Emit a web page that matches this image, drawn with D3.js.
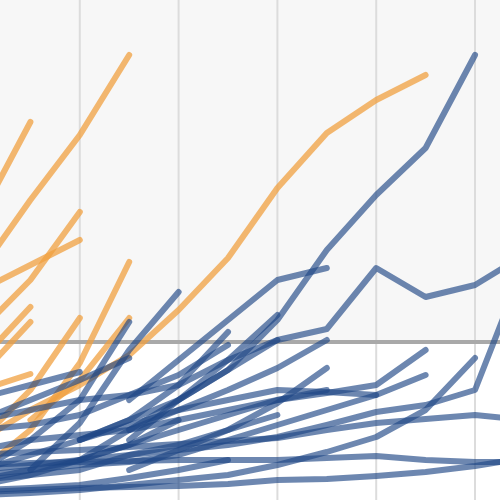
<!DOCTYPE html>
<html><head><meta charset="utf-8">
<script src="https://cdn.jsdelivr.net/npm/d3@7"></script>
<style>body{margin:0}svg{display:block}</style>
</head><body>
<svg id="chart" width="500" height="500"></svg>
<script>
'use strict'
// each series: first year, then one value per year (value = height above baseline)
const gridYears = [2012, 2014, 2016, 2018, 2020]
const threshold = 158

const orangeSeries = [
    [2010, [230, 300, 365, 445]],
    [2010, [285, 378]],
    [2010, [170, 220, 288]],
    [2010, [210, 235, 260]],
    [2010, [30, 70, 137, 238]],
    [2010, [140, 193]],
    [2010, [125, 178]],
    [2010, [60, 110, 182]],
    [2011, [80, 120, 182]],
    [2010, [110, 126]],
    [2010, [60, 90, 115, 145, 190, 242, 312, 367, 400, 425]]
]

const blueSeries = [
    [2012, [60, 80, 100, 130, 180, 250, 305, 352, 445]],
    [2013, [60, 100, 130, 160, 171, 232, 203, 215, 245]],
    [2012, [40, 70, 90, 110, 132, 160]],
    [2010, [30, 45, 60, 75, 90, 100, 110, 108, 105, 125]],
    [2013, [30, 50, 70, 97, 132]],
    [2010, [20, 30, 40, 55, 70, 85, 100, 107, 115, 150]],
    [2010, [30, 35, 40, 45, 50, 55, 63, 75, 88, 95, 110, 236]],
    [2010, [45, 48, 50, 53, 56, 59, 62, 70, 77, 81, 85, 80]],
    [2010, [5, 7, 10, 15, 20, 25, 35, 48, 63, 90, 142]],
    [2010, [35, 37, 38, 39, 40, 40, 40, 42, 44, 40, 38, 38]],
    [2010, [8, 10, 12, 13, 14, 16, 20, 21, 24, 28, 34, 42]],
    [2013, [100, 140, 180, 220, 232]],
    [2013, [70, 100, 140, 185]],
    [2011, [30, 77, 150, 208]],
    [2012, [60, 80, 115, 168]],
    [2010, [30, 60, 100, 178]],
    [2010, [80, 90, 100, 105, 115, 140, 160]],
    [2010, [70, 75, 85, 105, 125, 155]],
    [2010, [50, 60, 65, 70, 80, 90, 100, 110]],
    [2010, [20, 25, 30, 45, 55, 70, 85]],
    [2010, [10, 12, 15, 22, 30, 40]],
    [2010, [15, 25, 40, 55, 80]],
    [2010, [25, 30, 35, 38, 45, 60, 75, 90, 105]],
    [2010, [102, 115, 128]],
    [2010, [80, 100, 120, 142]]
]

const width = 500, height = 500
const svg = d3.select('#chart')
const x = d3.scaleLinear().domain([2010, 2020]).range([-19, 475])
const y = d3.scaleLinear().domain([0, 500]).range([height, 0])

svg.append('rect').attr('width', width).attr('height', y(threshold)).attr('fill', '#f7f7f7')
svg.append('rect').attr('y', y(threshold)).attr('width', width).attr('height', height - y(threshold)).attr('fill', '#fff')

svg.selectAll('line.grid').data(gridYears).join('line')
    .attr('class', 'grid')
    .attr('x1', d => x(d)).attr('x2', d => x(d))
    .attr('y1', 0).attr('y2', height)
    .attr('stroke', '#dcdcdc').attr('stroke-width', 2)

svg.append('line')
    .attr('x1', 0).attr('x2', width)
    .attr('y1', y(threshold)).attr('y2', y(threshold))
    .attr('stroke', '#a9a9a9').attr('stroke-width', 4)

var line = d3.line().x(d => x(d[0])).y(d => y(d[1]))
var toPoints = s => s[1].map((v, i) => [s[0] + i, v])

svg.append('g').selectAll('path').data(orangeSeries).join('path')
    .attr('d', s => line(toPoints(s)))
    .attr('fill', 'none').attr('stroke', '#f0a040').attr('stroke-opacity', 0.75)
    .attr('stroke-width', 6).attr('stroke-linecap', 'round').attr('stroke-linejoin', 'round')

svg.append('g').selectAll('path').data(blueSeries).join('path')
    .attr('d', s => line(toPoints(s)))
    .attr('fill', 'none').attr('stroke', '#1f4785').attr('stroke-opacity', 0.65)
    .attr('stroke-width', 6).attr('stroke-linecap', 'round').attr('stroke-linejoin', 'round')
</script>
</body></html>
